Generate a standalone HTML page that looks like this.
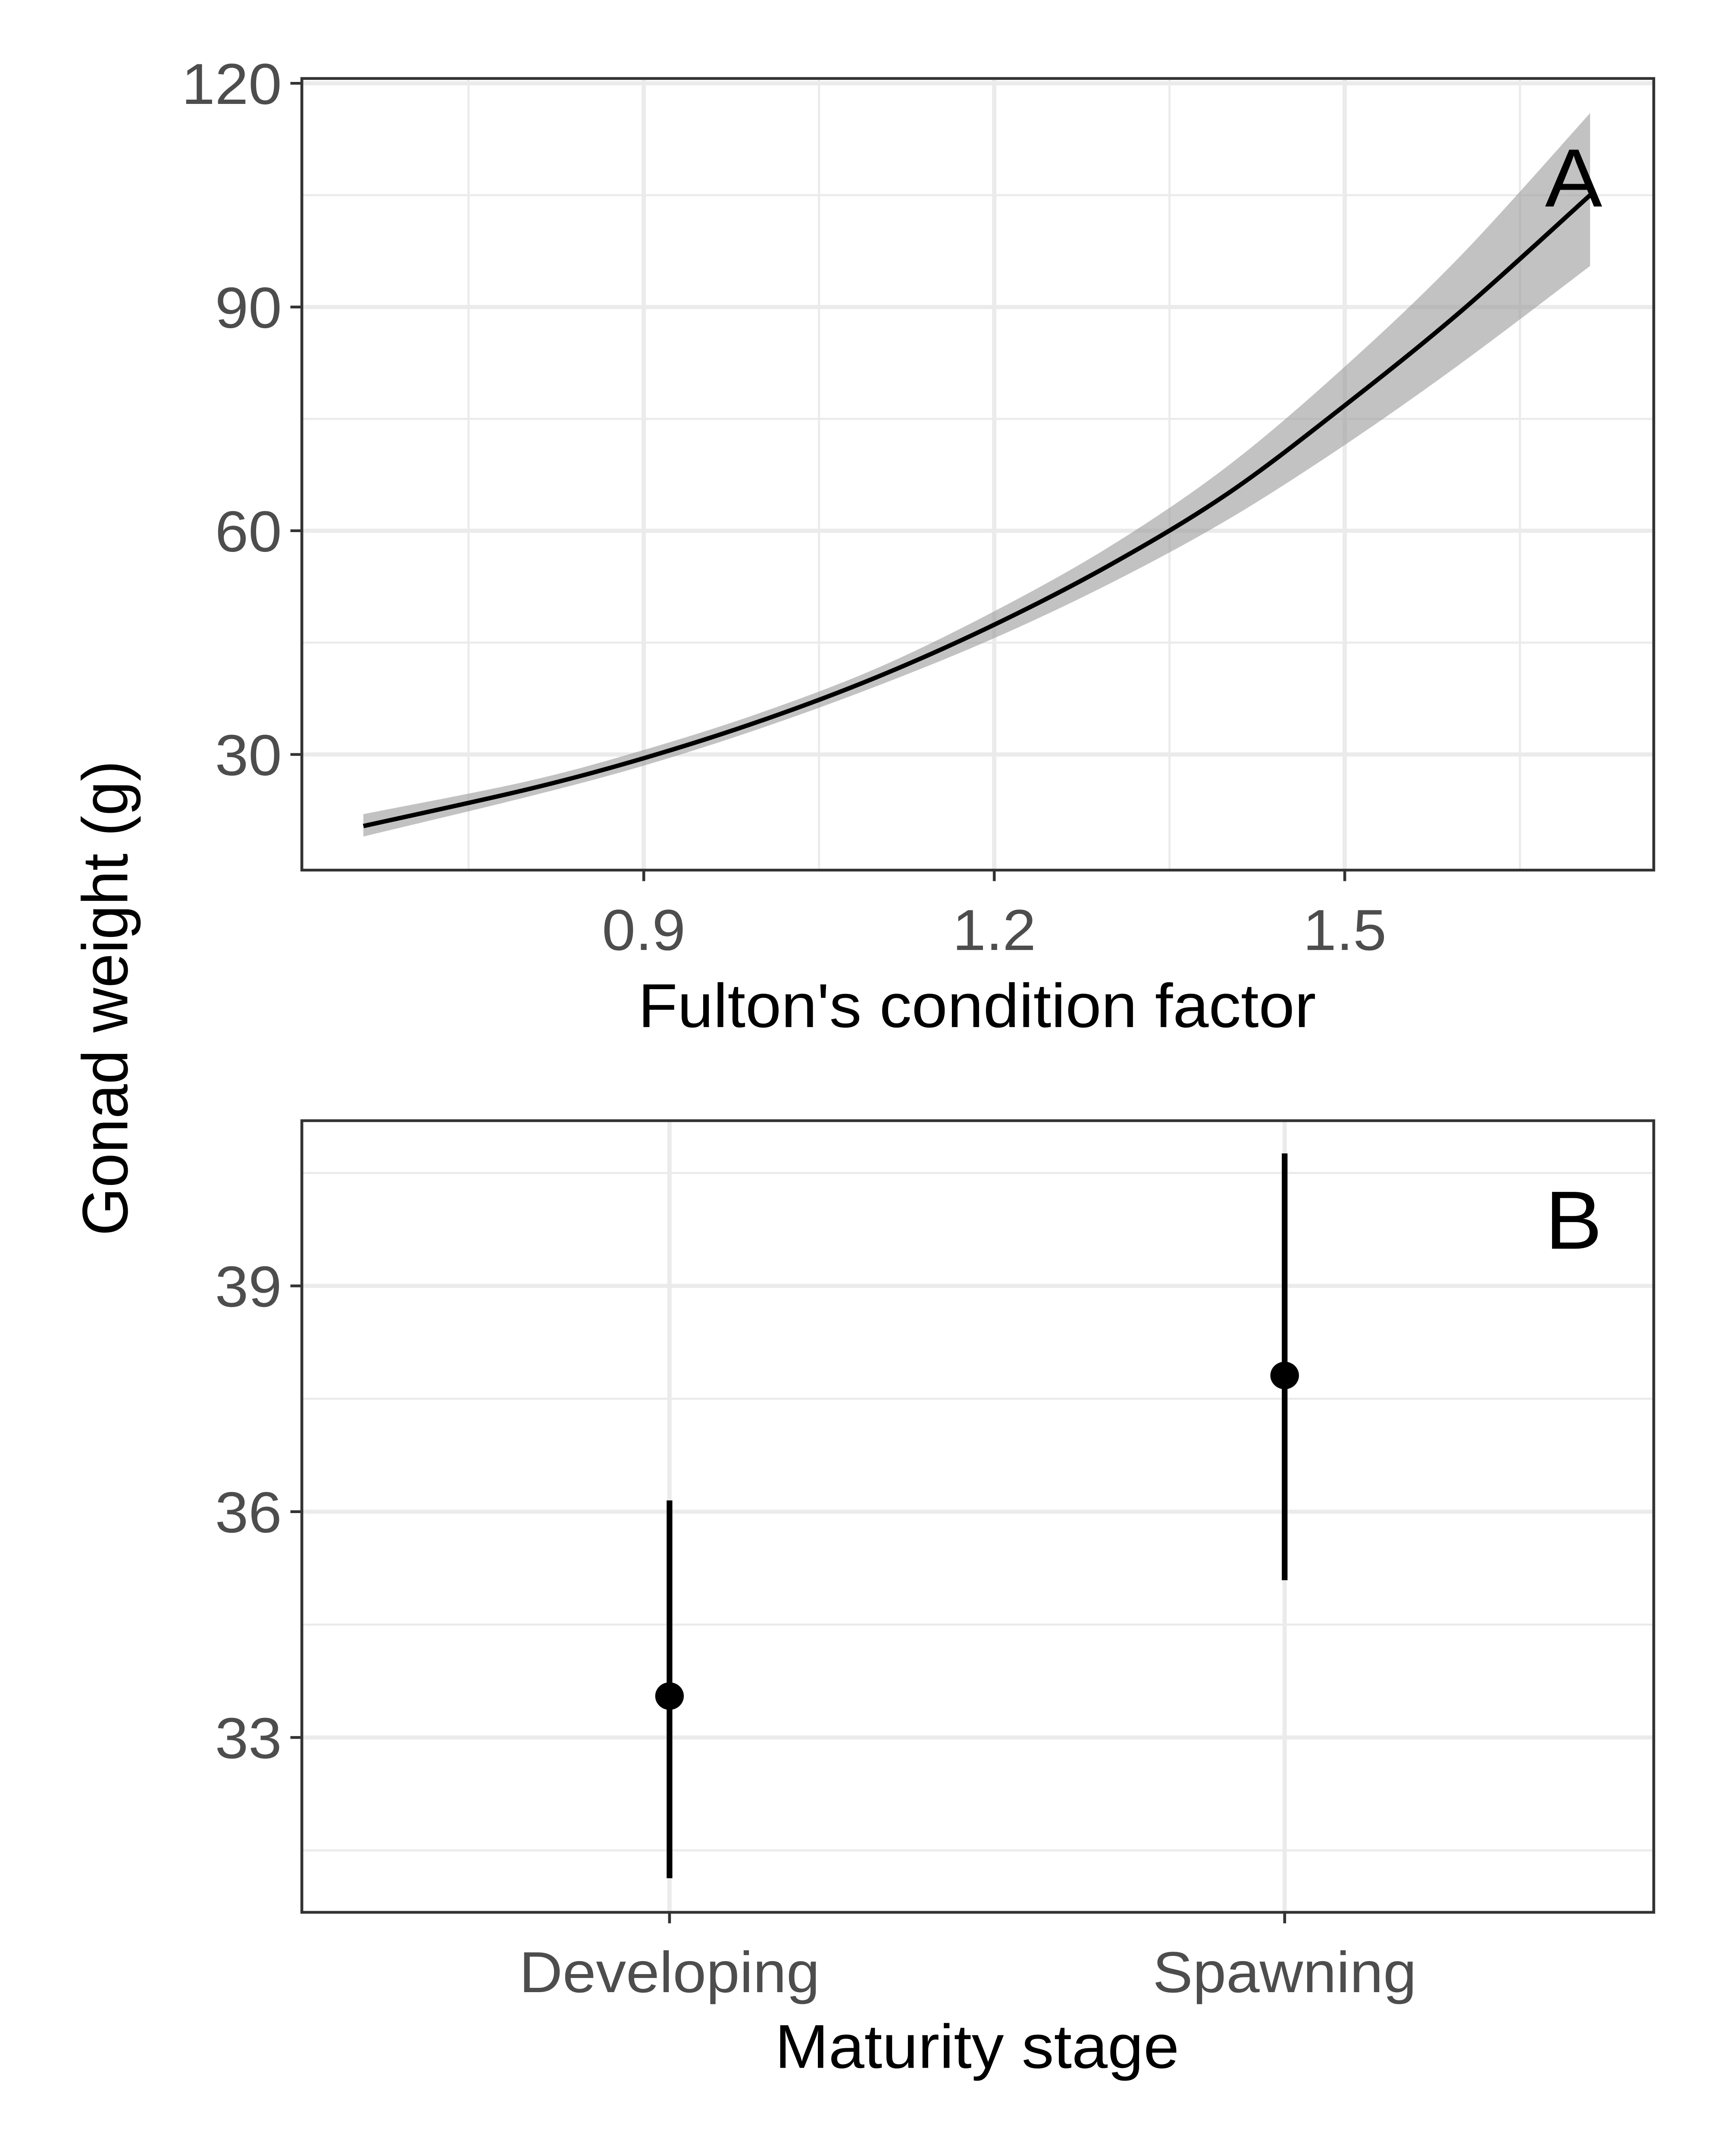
<!DOCTYPE html>
<html><head><meta charset="utf-8"><style>
html,body{margin:0;padding:0;background:#fff;width:100%;height:100%;overflow:hidden;}
svg{display:block;position:fixed;left:0;top:0;width:100vw;height:100vh;}
text{font-family:"Liberation Sans",Arial,sans-serif;}
</style></head><body>
<svg id="chart" viewBox="0 0 1210 1566" preserveAspectRatio="none" xmlns="http://www.w3.org/2000/svg">
<rect width="1210" height="1566" fill="#fff"/>
<g id="pa"></g>
<g id="pb"></g>
<text transform="translate(89,725) rotate(-90)" text-anchor="middle" font-size="45" fill="#000">Gonad weight (g)</text>
<text x="683" y="746" text-anchor="middle" font-size="45" fill="#000">Fulton's condition factor</text>
<text x="683" y="1502" text-anchor="middle" font-size="45" fill="#000">Maturity stage</text>
</svg>
<script>
const aX=[0.66,0.8,0.9,1.0,1.1,1.2,1.3,1.4,1.5,1.6,1.71];
const aFit=[20.4,25.3,29.5,34.5,40.4,47.4,55.5,65,76.8,89.5,105];
const aLo=[19.0,24.3,28.5,33.5,39.2,45.6,53.0,61.5,71.5,82.5,95.5];
const aHi=[22.0,26.4,30.6,35.6,41.6,49.2,58.0,68.7,82.0,97,116];
const aXTicks=[0.9,1.2,1.5];
const aXMinor=[0.75,1.05,1.35,1.65];
const aYTicks=[30,60,90,120];
const aYMinor=[45,75,105];
const bCats=["Developing","Spawning"];
const bMean=[33.55,37.81];
const bLo=[31.13,35.09];
const bHi=[36.15,40.76];
const bYTicks=[33,36,39];
const bYMinor=[31.5,34.5,37.5,40.5];

const NS="http://www.w3.org/2000/svg";
function mk(p,t,a){const e=document.createElementNS(NS,t);for(const k in a)e.setAttribute(k,a[k]);p.appendChild(e);return e;}
function spline(pts,move){let d=move?'M'+pts[0][0]+','+pts[0][1]:'L'+pts[0][0]+','+pts[0][1];
 for(let i=0;i<pts.length-1;i++){const p0=pts[Math.max(i-1,0)],p1=pts[i],p2=pts[i+1],p3=pts[Math.min(i+2,pts.length-1)];
 const c1=[p1[0]+(p2[0]-p0[0])/6,p1[1]+(p2[1]-p0[1])/6],c2=[p2[0]-(p3[0]-p1[0])/6,p2[1]-(p3[1]-p1[1])/6];
 d+=' C'+c1[0]+','+c1[1]+' '+c2[0]+','+c2[1]+' '+p2[0]+','+p2[1];}return d;}
const L=211,R=1156;
const pa=document.getElementById('pa');
const aT=57,aB=632;
const ax=v=>450+(v-0.9)/0.3*245;
const ay=v=>548-(v-30)/30*162.5;
mk(pa,'rect',{x:L,y:aT,width:R-L,height:aB-aT,fill:'#fff'});
aYMinor.forEach(v=>{const e=mk(pa,'line',{x1:L,x2:R,y1:ay(v),y2:ay(v),stroke:'#ebebeb','stroke-width':1.5});});
aXMinor.forEach(v=>{const e=mk(pa,'line',{x1:ax(v),x2:ax(v),y1:aT,y2:aB,stroke:'#ebebeb','stroke-width':1.5});});
aYTicks.forEach(v=>{const e=mk(pa,'line',{x1:L,x2:R,y1:ay(v),y2:ay(v),stroke:'#ebebeb','stroke-width':3});
 const t=mk(pa,'line',{x1:L-8,x2:L,y1:ay(v),y2:ay(v),stroke:'#333','stroke-width':2});
 const l=mk(pa,'text',{x:L-14,y:ay(v)+15,'text-anchor':'end','font-size':42,fill:'#4d4d4d'});l.textContent=v;});
aXTicks.forEach(v=>{const e=mk(pa,'line',{x1:ax(v),x2:ax(v),y1:aT,y2:aB,stroke:'#ebebeb','stroke-width':3});
 const t=mk(pa,'line',{x1:ax(v),x2:ax(v),y1:aB,y2:aB+8,stroke:'#333','stroke-width':2});
 const l=mk(pa,'text',{x:ax(v),y:aB+58,'text-anchor':'middle','font-size':42,fill:'#4d4d4d'});l.textContent=v.toFixed(1);});
const hiPts=aX.map((x,i)=>[ax(x),ay(aHi[i])]);
const loPts=aX.map((x,i)=>[ax(x),ay(aLo[i])]).reverse();
const rb=mk(pa,'path',{d:spline(hiPts,true)+' '+spline(loPts,false)+' Z',fill:'#999','fill-opacity':0.6});

const ln=mk(pa,'path',{d:spline(aX.map((x,i)=>[ax(x),ay(aFit[i])]),true),fill:'none',stroke:'#000','stroke-width':3.2});

mk(pa,'rect',{x:L,y:aT,width:R-L,height:aB-aT,fill:'none',stroke:'#333','stroke-width':2});
const la=mk(pa,'text',{x:1100,y:150,'text-anchor':'middle','font-size':60,fill:'#000'});la.textContent='A';
const pb=document.getElementById('pb');
const bT=814,bB=1389;
const by=v=>1262-(v-33)/3*164;
const bx=i=>[468,898][i];
mk(pb,'rect',{x:L,y:bT,width:R-L,height:bB-bT,fill:'#fff'});
bYMinor.forEach(v=>{const e=mk(pb,'line',{x1:L,x2:R,y1:by(v),y2:by(v),stroke:'#ebebeb','stroke-width':1.5});});
bYTicks.forEach(v=>{const e=mk(pb,'line',{x1:L,x2:R,y1:by(v),y2:by(v),stroke:'#ebebeb','stroke-width':3});
 const t=mk(pb,'line',{x1:L-8,x2:L,y1:by(v),y2:by(v),stroke:'#333','stroke-width':2});
 const l=mk(pb,'text',{x:L-14,y:by(v)+15,'text-anchor':'end','font-size':42,fill:'#4d4d4d'});l.textContent=v;});
bCats.forEach((c,i)=>{const e=mk(pb,'line',{x1:bx(i),x2:bx(i),y1:bT,y2:bB,stroke:'#ebebeb','stroke-width':3});
 const t=mk(pb,'line',{x1:bx(i),x2:bx(i),y1:bB,y2:bB+8,stroke:'#333','stroke-width':2});
 const l=mk(pb,'text',{x:bx(i),y:bB+58,'text-anchor':'middle','font-size':42,fill:'#4d4d4d'});l.textContent=c;});
bCats.forEach((c,i)=>{const e=mk(pb,'line',{x1:bx(i),x2:bx(i),y1:by(bLo[i]),y2:by(bHi[i]),stroke:'#000','stroke-width':4});
 const p=mk(pb,'circle',{cx:bx(i),cy:by(bMean[i]),r:10,fill:'#000'});});
mk(pb,'rect',{x:L,y:bT,width:R-L,height:bB-bT,fill:'none',stroke:'#333','stroke-width':2});
const lb=mk(pb,'text',{x:1100,y:907,'text-anchor':'middle','font-size':60,fill:'#000'});lb.textContent='B';
</script>
</body></html>
